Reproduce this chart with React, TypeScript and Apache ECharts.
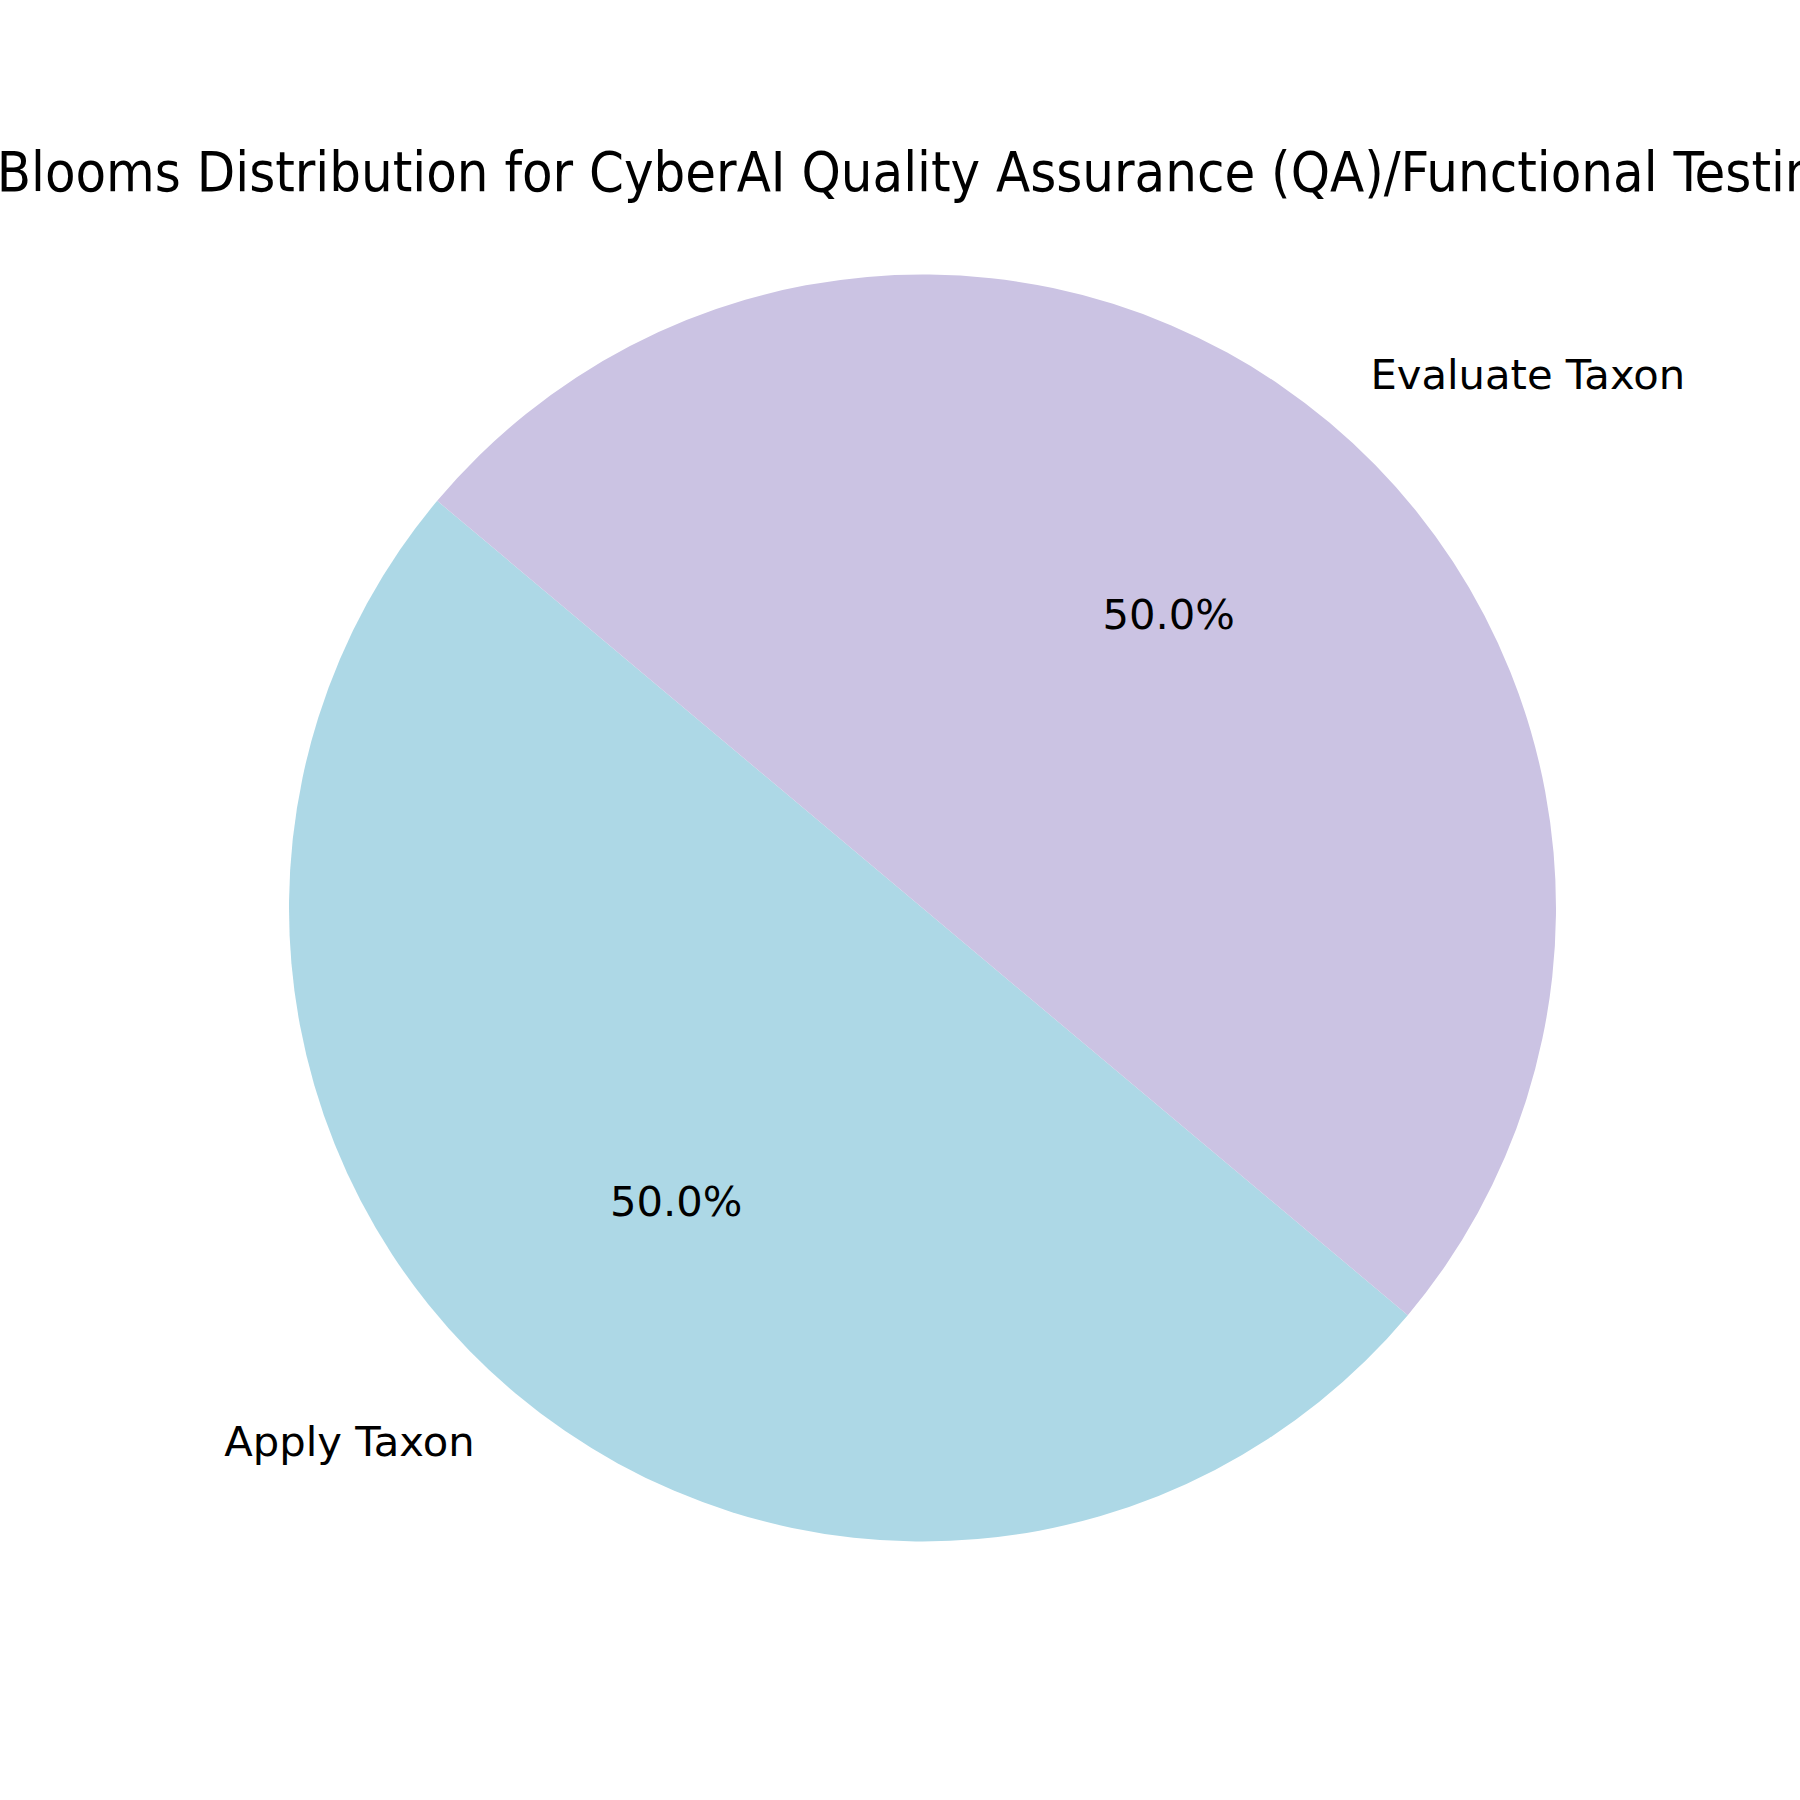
import React, { useEffect, useRef } from "react";
import * as echarts from "echarts";

const titleText = "Blooms Distribution for CyberAI Quality Assurance (QA)/Functional Testing";
const categories = ["Apply Taxon", "Evaluate Taxon"];
const values = [1, 1];
const colors = ["#ADD8E6", "#CBC3E3"];

const CX = 922.5;
const CY = 908;
const R = 633.5;
const FONT = "DejaVu Sans";

export default function App() {
  const ref = useRef<HTMLDivElement>(null);
  useEffect(() => {
    if (!ref.current) return;
    const chart = echarts.init(ref.current, undefined, { renderer: "svg" });
    const data = categories.map((name, i) => ({
      name,
      value: values[i],
      itemStyle: { color: colors[i] },
    }));
    const transparentData = categories.map((name, i) => ({
      name,
      value: values[i],
      itemStyle: { color: "rgba(0,0,0,0)" },
    }));
    chart.setOption({
      animation: false,
      backgroundColor: "#ffffff",
      graphic: [
        {
          type: "text",
          x: CX,
          y: 171,
          style: {
            text: titleText,
            align: "center",
            verticalAlign: "middle",
            fontFamily: "DejaVu Sans Condensed",
            fontSize: 55.6,
            fill: "#000000",
          },
        },
      ],
      series: [
        {
          type: "pie",
          center: [CX, CY],
          radius: [0, R],
          startAngle: 140,
          clockwise: false,
          avoidLabelOverlap: false,
          silent: true,
          data,
          itemStyle: { borderWidth: 0 },
          label: {
            show: true,
            position: "outside",
            formatter: "{b}",
            fontFamily: FONT,
            fontSize: 41.7,
            color: "#000000",
            distanceToLabelLine: 0,
            padding: [0, 0, 10, 0],
          },
          labelLine: { show: false, length: R * 0.1, length2: 0 },
        },
        {
          type: "pie",
          center: [CX, CY],
          radius: [0, R * 1.2],
          startAngle: 140,
          clockwise: false,
          avoidLabelOverlap: false,
          silent: true,
          data: transparentData,
          itemStyle: { borderWidth: 0 },
          label: {
            show: true,
            position: "inside",
            formatter: (p: any) => p.percent.toFixed(1) + "%",
            fontFamily: FONT,
            fontSize: 41.7,
            color: "#000000",
            padding: [0, 0, 10, 0],
          },
          labelLine: { show: false },
        },
      ],
    });
    return () => chart.dispose();
  }, []);
  return (
    <div
      ref={ref}
      style={{ position: "fixed", left: 0, top: 0, width: 1800, height: 1800 }}
    />
  );
}
